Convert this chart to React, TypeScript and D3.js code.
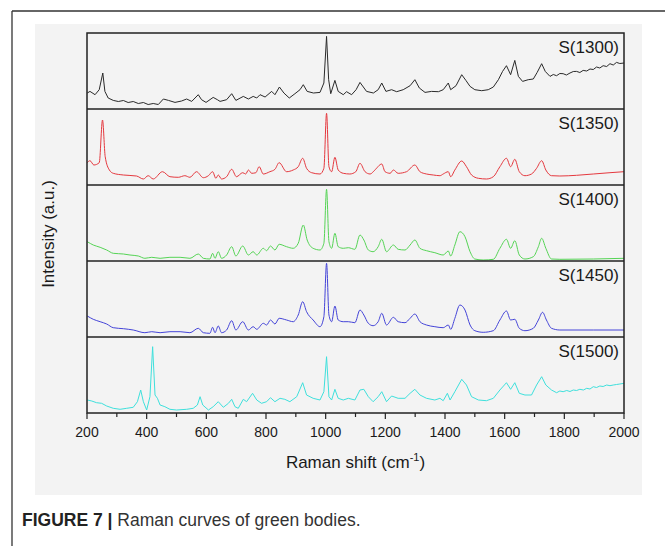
import * as d3 from "d3";

const WIDTH = 665;
const HEIGHT = 546;
const FRAME = { left: 87, right: 624, top: 33, bottom: 413 };
const FONT = "'Liberation Sans', Arial, sans-serif";

// Raman shift (cm-1), intensity (a.u., panel-relative)
const sampleNames = ["S(1300)", "S(1350)", "S(1400)", "S(1450)", "S(1500)"];
const sampleColors = ["#2a2a2a", "#e5383e", "#55d455", "#4444d8", "#3ee0dc"];
const sampleCurves = ["linear", "smooth", "smooth", "smooth", "linear"];

const s1300: [number, number][] = [
  [201, 16], [210, 17.6], [227, 14.3], [241, 19.3], [253, 36], [260, 17.6], [271, 11], [288, 8.6],
  [305, 7.5], [322, 8.5], [338, 6.5], [355, 7.5], [372, 5.5], [389, 6.5], [405, 4.5], [422, 5.5],
  [439, 4.5], [456, 10], [473, 8.6], [495, 6.6], [517, 8], [534, 10], [551, 7.6], [573, 14.3],
  [584, 9.3], [599, 6.6], [623, 11.6], [637, 9.3], [646, 7.6], [668, 9.3], [685, 15.3], [699, 8.6],
  [724, 12.6], [741, 10], [757, 12.6], [769, 11], [780, 14.3], [797, 12], [819, 17.6], [830, 14.3],
  [845, 22], [860, 16], [878, 11], [897, 15.3], [914, 19.3], [925, 24.3], [938, 17.6], [959, 16],
  [981, 16.6], [994, 26], [1003, 72.6], [1010, 29.3], [1017, 15.3], [1031, 28.6], [1042, 17.6],
  [1059, 14.3], [1070, 17.3], [1087, 14.3], [1102, 19.3], [1115, 26.6], [1137, 17.6], [1160, 16],
  [1176, 19.3], [1188, 26], [1202, 17.6], [1221, 19.3], [1238, 17.3], [1260, 19.3], [1283, 23.3],
  [1299, 29.3], [1314, 21], [1333, 16.6], [1355, 17.6], [1378, 17.3], [1394, 19.3], [1411, 26],
  [1419, 19.3], [1437, 23.3], [1456, 34.3], [1470, 28.6], [1484, 22.6], [1500, 19.3], [1523, 18.3],
  [1545, 19.3], [1562, 22], [1579, 29.3], [1593, 37.6], [1606, 43.3], [1620, 34.3], [1634, 48.6],
  [1646, 32.6], [1660, 27.6], [1679, 29.3], [1696, 30], [1709, 36.6], [1724, 45.3], [1736, 37.6],
  [1752, 32.6], [1763, 34.5], [1774, 33.3], [1785, 35.5], [1796, 35.3], [1807, 34], [1819, 36],
  [1830, 37.5], [1841, 37.6], [1852, 36.5], [1863, 38.6], [1875, 38], [1886, 40], [1897, 39.5],
  [1908, 42], [1919, 41], [1930, 43.3], [1942, 42.5], [1953, 45.3], [1964, 44], [1975, 46.6],
  [1986, 45.5], [2000, 46],
];

const s1350: [number, number][] = [
  [201, 22.3], [210, 24.3], [223, 20], [241, 22.3], [252, 65], [261, 28.3], [275, 15], [288, 11.7],
  [322, 10], [366, 9], [389, 6], [405, 9.3], [422, 6], [453, 13.3], [478, 8.3], [506, 7.7],
  [528, 9.3], [545, 7.7], [567, 13.3], [590, 7.3], [607, 9.3], [621, 13.3], [632, 6.7], [640, 10],
  [651, 6], [668, 8.3], [685, 15.7], [701, 8.3], [722, 12.3], [732, 11], [741, 15], [752, 11.7],
  [766, 12.3], [777, 18.3], [791, 11], [813, 13.3], [830, 15.7], [844, 22.3], [869, 13.3], [891, 15],
  [908, 18.3], [923, 26.7], [936, 16.7], [953, 12.3], [981, 11], [994, 16.7], [1003, 71.7],
  [1011, 18.3], [1020, 13.3], [1031, 27.7], [1042, 15], [1059, 11.7], [1081, 11], [1101, 13.3],
  [1115, 21.7], [1132, 13.3], [1149, 11], [1165, 15], [1188, 21], [1199, 13.3], [1216, 11.7],
  [1227, 15], [1243, 11.7], [1271, 13.3], [1299, 20], [1316, 13.3], [1338, 11], [1361, 10],
  [1383, 9.3], [1394, 11], [1411, 13.3], [1419, 8.3], [1433, 15], [1456, 24], [1472, 18.3],
  [1489, 10], [1512, 6.7], [1539, 6], [1562, 8.3], [1584, 18.3], [1606, 26.7], [1620, 18.3],
  [1634, 25.7], [1649, 13.3], [1668, 9.3], [1690, 11], [1707, 16.7], [1724, 24.3], [1738, 15],
  [1757, 9.3], [1785, 9], [1841, 9.7], [1897, 11], [1953, 12.3], [2000, 13.3],
];

const s1400: [number, number][] = [
  [201, 19.3], [221, 16], [244, 13.7], [266, 11], [288, 7.7], [322, 7], [344, 6], [372, 5],
  [394, 2.7], [417, 3.7], [445, 2.7], [478, 3.7], [512, 3.7], [545, 2.7], [573, 7], [590, 2.7],
  [612, 2], [621, 7.7], [629, 2.7], [640, 9.3], [651, 2.7], [668, 6], [685, 14.3], [699, 5],
  [722, 15], [741, 6], [757, 9.3], [769, 6], [791, 12.7], [802, 10.3], [815, 15], [830, 11],
  [844, 16.7], [869, 14.3], [891, 12.7], [908, 17.7], [925, 36], [938, 21], [958, 12.7], [981, 11],
  [994, 17.7], [1003, 71.7], [1011, 19.3], [1020, 12.7], [1031, 27.7], [1042, 14.3], [1059, 12.7],
  [1076, 13.3], [1098, 11.7], [1115, 26], [1128, 21], [1143, 11], [1159, 9.3], [1176, 14.3],
  [1188, 21.7], [1204, 9.3], [1227, 16], [1243, 11.7], [1266, 11], [1283, 16], [1299, 21],
  [1316, 12.7], [1338, 10.3], [1366, 8.3], [1394, 6], [1411, 10], [1419, 5], [1433, 16],
  [1450, 29.3], [1467, 24.3], [1484, 9.3], [1500, 2], [1528, 1], [1562, 1.7], [1584, 12.7],
  [1606, 21.7], [1620, 12.7], [1634, 20.3], [1649, 6], [1668, 2], [1696, 4.3], [1713, 14.3],
  [1724, 22.7], [1738, 12.7], [1757, 2], [1785, 1.7], [1897, 2], [2000, 2.7],
];

const s1450: [number, number][] = [
  [201, 21], [221, 17.7], [244, 15.3], [266, 13], [288, 9.3], [322, 8.3], [355, 7], [394, 4.3],
  [417, 5.3], [445, 4.3], [478, 5.3], [512, 5.3], [545, 4.3], [573, 8.7], [590, 4.3], [612, 3.7],
  [621, 9.7], [629, 4.3], [640, 11], [651, 4.3], [668, 7], [685, 16.3], [699, 7], [722, 15.3],
  [741, 7], [757, 10.3], [769, 7.7], [791, 13.7], [802, 12], [815, 17], [830, 13], [844, 18.7],
  [869, 17], [891, 15.3], [908, 22], [923, 35.3], [936, 25.3], [958, 17], [981, 10.3], [994, 20.3],
  [1003, 73.7], [1011, 22], [1020, 15.3], [1031, 31], [1042, 17], [1059, 15.3], [1076, 15.3],
  [1098, 14.3], [1115, 27], [1128, 22], [1143, 13.7], [1159, 11.3], [1176, 15.3], [1188, 23.7],
  [1204, 12], [1227, 19.7], [1243, 15.3], [1266, 14.3], [1283, 18.7], [1299, 23], [1316, 15.3],
  [1338, 12], [1366, 10.3], [1394, 9.3], [1411, 12], [1419, 7.7], [1433, 18.7], [1450, 32],
  [1467, 27], [1484, 12], [1500, 6.3], [1528, 4.7], [1562, 6.3], [1584, 17], [1606, 26],
  [1620, 17], [1634, 17.7], [1649, 8.7], [1668, 6.3], [1696, 8.7], [1713, 17], [1727, 24.7],
  [1740, 17], [1757, 8.7], [1785, 7], [1897, 7], [2000, 7],
];

const s1500: [number, number][] = [
  [201, 13], [216, 12], [232, 10.3], [249, 9.7], [266, 7], [288, 4.7], [311, 3.7], [333, 4.7],
  [355, 5.7], [369, 11.3], [380, 23], [389, 11.3], [400, 3], [411, 16.3], [420, 66.3], [428, 18],
  [436, 14.7], [445, 8], [461, 6.3], [478, 3.7], [500, 3], [534, 3.7], [556, 4.7], [570, 8],
  [579, 16.3], [588, 8], [607, 3], [623, 6.3], [640, 11.3], [657, 5.7], [674, 9.7], [685, 13.7],
  [696, 6.3], [707, 4.7], [724, 13.7], [735, 11.3], [755, 19.7], [769, 13], [785, 9.7], [802, 11.3],
  [815, 15.3], [830, 11.3], [847, 14.7], [863, 13.7], [880, 11.3], [903, 16.3], [923, 30.3],
  [936, 18], [958, 14.7], [981, 13], [994, 21.3], [1003, 56.3], [1011, 16.3], [1020, 13],
  [1031, 23.7], [1042, 14.7], [1059, 13], [1076, 14.7], [1098, 13], [1115, 23], [1128, 23.7],
  [1143, 16.3], [1159, 11.3], [1176, 16.3], [1188, 21.3], [1204, 11.3], [1221, 17], [1243, 14.7],
  [1266, 14.7], [1283, 19.7], [1299, 23.7], [1316, 18], [1338, 14.7], [1366, 13], [1383, 14.7],
  [1394, 12.3], [1408, 19.7], [1417, 13], [1433, 21.3], [1456, 33.7], [1472, 28], [1489, 16.3],
  [1512, 13], [1539, 12.3], [1562, 14.7], [1584, 23], [1606, 30.3], [1620, 23.7], [1634, 30.3],
  [1649, 19.7], [1668, 18], [1690, 18], [1707, 28], [1724, 36.3], [1738, 28], [1757, 23],
  [1774, 20.3], [1785, 22], [1796, 21.3], [1808, 22.5], [1819, 21.5], [1830, 23], [1841, 22.5],
  [1852, 23.7], [1864, 23], [1875, 24.7], [1886, 24], [1897, 26.3], [1908, 25.5], [1919, 27],
  [1930, 26.5], [1942, 28], [1953, 27.3], [1964, 28], [1975, 28.5], [1986, 29], [2000, 29.7],
];

const spectra = [s1300, s1350, s1400, s1450, s1500];

const majorTicks = [200, 400, 600, 800, 1000, 1200, 1400, 1600, 1800, 2000];
const minorTicks = [300, 500, 700, 900, 1100, 1300, 1500, 1700, 1900];

export default function App() {
  const x = d3.scaleLinear().domain([200, 2000]).range([FRAME.left, FRAME.right]);
  const panelH = (FRAME.bottom - FRAME.top) / spectra.length;

  const panels = spectra.map((data, i) => {
    const top = FRAME.top + i * panelH;
    const bottom = top + panelH;
    const y = d3.scaleLinear().domain([0, 76]).range([bottom, top]);
    const line = d3
      .line<[number, number]>()
      .x((d) => x(d[0]))
      .y((d) => y(d[1]))
      .curve(sampleCurves[i] === "smooth" ? d3.curveMonotoneX : d3.curveLinear);
    return (
      <g key={sampleNames[i]}>
        <path d={line(data) ?? ""} fill="none" stroke={sampleColors[i]} strokeWidth={1} strokeLinejoin="round" />
        {i > 0 && (
          <line x1={FRAME.left} x2={FRAME.right} y1={top} y2={top} stroke="#222" strokeWidth={1.5} />
        )}
        <text x={FRAME.right - 5} y={top + 19.5} textAnchor="end" fontSize={17} fill="#1a1a1a">
          {sampleNames[i]}
        </text>
      </g>
    );
  });

  return (
    <svg
      width={WIDTH}
      height={HEIGHT}
      style={{ position: "absolute", left: 0, top: 0, background: "#fff" }}
      fontFamily={FONT}
    >
      {/* page frame */}
      <line x1={12} x2={WIDTH} y1={11} y2={11} stroke="#333" strokeWidth={1.3} />
      <line x1={12} x2={12} y1={11} y2={HEIGHT} stroke="#333" strokeWidth={1.3} />
      <rect x={35} y={24} width={607} height={471} fill="#f3f3f3" />

      {panels}
      <rect
        x={FRAME.left}
        y={FRAME.top}
        width={FRAME.right - FRAME.left}
        height={FRAME.bottom - FRAME.top}
        fill="none"
        stroke="#222"
        strokeWidth={1.5}
      />

      {majorTicks.map((t) => (
        <g key={t}>
          <line x1={x(t)} x2={x(t)} y1={FRAME.bottom} y2={FRAME.bottom + 6} stroke="#222" strokeWidth={1.2} />
          <text x={x(t)} y={FRAME.bottom + 24} textAnchor="middle" fontSize={14} fill="#1a1a1a">
            {t}
          </text>
        </g>
      ))}
      {minorTicks.map((t) => (
        <line key={t} x1={x(t)} x2={x(t)} y1={FRAME.bottom} y2={FRAME.bottom + 4} stroke="#222" strokeWidth={1.2} />
      ))}

      <text x={(FRAME.left + FRAME.right) / 2} y={467.5} textAnchor="middle" fontSize={17} fill="#1a1a1a">
        Raman shift (cm
        <tspan fontSize={11} dy={-7}>-1</tspan>
        <tspan dy={7}>)</tspan>
      </text>
      <text
        transform={`translate(54, 234) rotate(-90)`}
        textAnchor="middle"
        fontSize={17}
        fill="#1a1a1a"
      >
        Intensity (a.u.)
      </text>

      <text x={22} y={526} fontSize={17.5} fill="#333">
        <tspan fontWeight="bold" fill="#222">FIGURE 7 |</tspan>
        <tspan> Raman curves of green bodies.</tspan>
      </text>
    </svg>
  );
}
